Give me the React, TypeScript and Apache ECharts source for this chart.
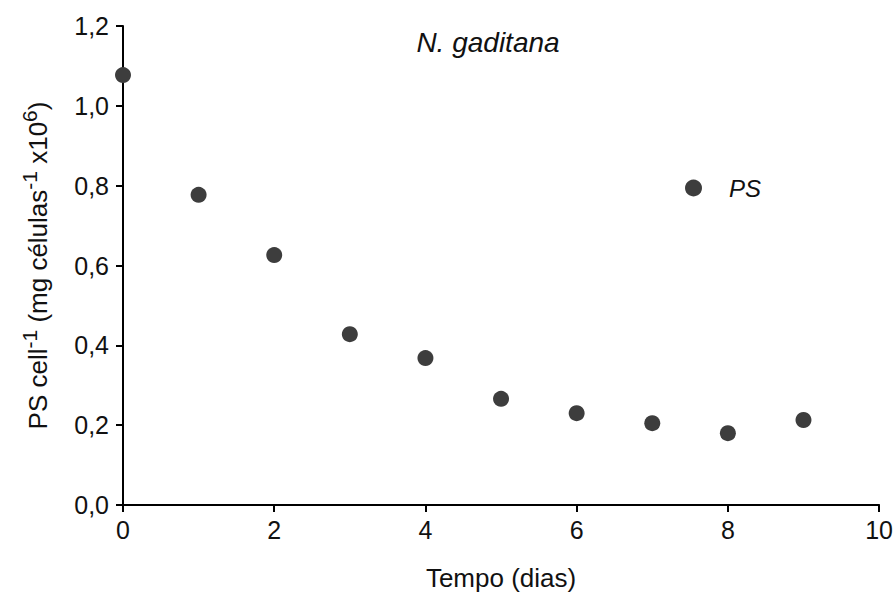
import React, { useEffect, useRef } from "react";
import * as echarts from "echarts";

const days = [0, 1, 2, 3, 4, 5, 6, 7, 8, 9];
const psValues = [1.077, 0.777, 0.626, 0.428, 0.368, 0.266, 0.23, 0.205, 0.18, 0.213];
const seriesName = "PS";
const titleText = "N. gaditana";
const xAxisName = "Tempo (dias)";

const FONT = "Liberation Sans";

export default function App() {
  const ref = useRef<HTMLDivElement>(null);
  useEffect(() => {
    document.body.style.margin = "0";
    const chart = echarts.init(ref.current!, undefined, { renderer: "svg" });
    chart.setOption({
      animation: false,
      backgroundColor: "#ffffff",
      title: {
        text: titleText,
        left: 483,
        top: 23,
        textAlign: "center",
        textStyle: { fontFamily: FONT, fontStyle: "italic", fontWeight: "normal", fontSize: 28, color: "#111" },
      },
      legend: {
        data: [{ name: seriesName, icon: "circle" }],
        left: 680,
        top: 171,
        itemWidth: 17,
        itemHeight: 17,
        textStyle: { fontFamily: FONT, fontStyle: "italic", fontSize: 24, color: "#111", padding: [0, 0, 0, 22] },
      },
      grid: { left: 123, right: 16, top: 26, bottom: 99, containLabel: false },
      xAxis: {
        type: "value",
        min: 0,
        max: 10,
        interval: 2,
        name: xAxisName,
        nameLocation: "middle",
        nameGap: 60,
        nameTextStyle: { fontFamily: FONT, fontSize: 26, color: "#111" },
        axisLine: { show: true, onZero: false, lineStyle: { color: "#000", width: 2 } },
        axisTick: { show: true, inside: false, length: 7, lineStyle: { color: "#000", width: 2 } },
        axisLabel: { fontFamily: FONT, fontSize: 25, color: "#111", margin: 12 },
        splitLine: { show: false },
      },
      yAxis: {
        type: "value",
        min: 0,
        max: 1.2,
        interval: 0.2,
        name: "{m|PS cell}{s|-1}{m| (mg células}{s|-1}{m| x10}{s|6}{m|)}",
        nameLocation: "middle",
        nameGap: 72,
        nameRotate: 90,
        nameTextStyle: {
          fontFamily: FONT,
          color: "#111",
          rich: {
            m: { fontFamily: FONT, fontSize: 26, color: "#111", verticalAlign: "bottom", lineHeight: 32 },
            s: { fontFamily: FONT, fontSize: 21, color: "#111", verticalAlign: "top", lineHeight: 32, padding: [0, 0, 10, 0] },
          },
        },
        axisLine: { show: true, onZero: false, lineStyle: { color: "#000", width: 2 } },
        axisTick: { show: true, inside: false, length: 7, lineStyle: { color: "#000", width: 2 } },
        axisLabel: {
          fontFamily: FONT,
          fontSize: 25,
          color: "#111",
          margin: 14,
          formatter: (v: number) => v.toFixed(1).replace(".", ","),
        },
        splitLine: { show: false },
      },
      series: [
        {
          name: seriesName,
          type: "scatter",
          data: days.map((d, i) => [d, psValues[i]]),
          symbol: "circle",
          symbolSize: 16,
          itemStyle: { color: "#3d3d3d", opacity: 1 },
        },
      ],
    });
    return () => chart.dispose();
  }, []);
  return <div ref={ref} style={{ width: 896, height: 604 }} />;
}
